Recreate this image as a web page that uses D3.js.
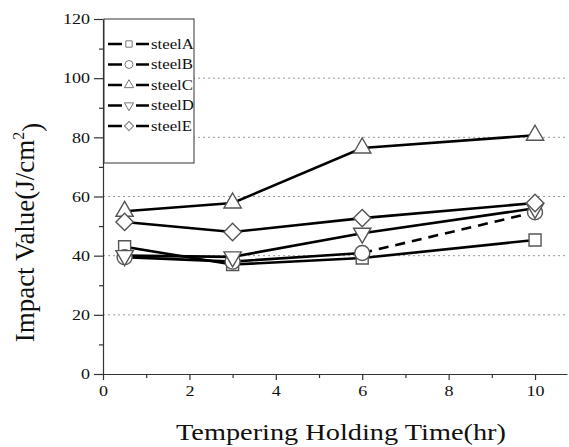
<!DOCTYPE html>
<html>
<head>
<meta charset="utf-8">
<script src="https://cdn.jsdelivr.net/npm/d3@7"></script>
<style>
  body { margin: 0; background: #fff; }
  svg text { font-family: "Liberation Serif", "Times New Roman", serif; fill: #111; }
  .axis path, .axis line { stroke: #333; stroke-width: 1.2; }
  .grid line { stroke: #999; stroke-dasharray: 2,3; }
</style>
</head>
<body>
<div id="chart"></div>
<script>
var hours = [0.5, 3, 6, 10];
var steelA = [43, 37, 39.2, 45.3];
var steelB = [39.5, 38, 40.9, 54.7];
var steelC = [55, 57.8, 76.4, 80.7];
var steelD = [40, 39.6, 47.6, 56];
var steelE = [51.4, 48, 52.7, 57.8];
var names = ["steelA", "steelB", "steelC", "steelD", "steelE"];
var yTicks = [0, 20, 40, 60, 80, 100, 120];
var xTicks = [0, 2, 4, 6, 8, 10];

// dashFrom: index where the series turns into a dashed line
var series = [
  {name: "steelA", values: steelA, symbol: "square", dashFrom: null},
  {name: "steelB", values: steelB, symbol: "circle", dashFrom: 2},
  {name: "steelC", values: steelC, symbol: "up", dashFrom: null},
  {name: "steelD", values: steelD, symbol: "down", dashFrom: null},
  {name: "steelE", values: steelE, symbol: "diamond", dashFrom: null}
];

var margin = {top: 19, right: 2, bottom: 73, left: 103},
    width = 569 - margin.left - margin.right,
    height = 447 - margin.top - margin.bottom;

var x = d3.scaleLinear().domain([0, 10.74]).range([0, width]);
var y = d3.scaleLinear().domain([0, 120]).range([height, 0]);

var svg = d3.select("#chart").append("svg")
    .attr("width", 569).attr("height", 447)
  .append("g")
    .attr("transform", "translate(" + margin.left + "," + margin.top + ")");

// the source picture is a bit wider than it is tall, so text gets stretched
function stretch(sel, k) {
  sel.each(function() {
    var w = this.getComputedTextLength();
    d3.select(this).attr("textLength", w * k).attr("lengthAdjust", "spacingAndGlyphs");
  });
}

// dotted grid
svg.append("g").attr("class", "grid")
  .selectAll("line").data([20, 40, 60, 80, 100])
  .enter().append("line")
    .attr("x1", 0).attr("x2", width)
    .attr("y1", function(d) { return y(d); })
    .attr("y2", function(d) { return y(d); });

// minor ticks
svg.append("g").attr("class", "axis")
  .attr("transform", "translate(0," + height + ")")
  .call(d3.axisBottom(x).tickValues([1, 3, 5, 7, 9]).tickSize(4).tickFormat(""))
  .call(function(g) { g.select(".domain").remove(); });
svg.append("g").attr("class", "axis")
  .call(d3.axisLeft(y).tickValues([10, 30, 50, 70, 90, 110]).tickSize(4).tickFormat(""))
  .call(function(g) { g.select(".domain").remove(); });

var xAxis = svg.append("g").attr("class", "axis")
  .attr("transform", "translate(0," + height + ")")
  .call(d3.axisBottom(x).tickValues(xTicks).tickSizeInner(6).tickSizeOuter(0).tickPadding(5));
xAxis.attr("font-family", null);
xAxis.selectAll("text").style("font-size", "15px").call(stretch, 1.2);

var yAxis = svg.append("g").attr("class", "axis")
  .call(d3.axisLeft(y).tickValues(yTicks).tickSizeInner(9).tickSizeOuter(0).tickPadding(4));
yAxis.attr("font-family", null);
yAxis.selectAll("text").style("font-size", "15px").call(stretch, 1.2);

function markerPath(sym, scale) {
  var gen = d3.symbol();
  if (sym === "square") return gen.type(d3.symbolSquare).size(144 * scale)();
  if (sym === "circle") return gen.type(d3.symbolCircle).size(177 * scale)();
  if (sym === "diamond") return gen.type(d3.symbolSquare).size(150 * scale)();
  return gen.type(d3.symbolTriangle).size(130 * scale)();
}
function markerRot(sym) {
  if (sym === "down") return " rotate(180)";
  if (sym === "diamond") return " rotate(45)";
  return "";
}

var line = d3.line()
  .x(function(d) { return x(hours[d.i]); })
  .y(function(d) { return y(d.v); });

series.forEach(function(s) {
  var pts = s.values.map(function(v, i) { return {v: v, i: i}; });
  var cut = s.dashFrom === null ? pts.length - 1 : s.dashFrom;
  svg.append("path")
    .attr("d", line(pts.slice(0, cut + 1)))
    .attr("fill", "none")
    .attr("stroke", "#000")
    .attr("stroke-width", 2.6);
  if (s.dashFrom !== null) {
    svg.append("path")
      .attr("d", line(pts.slice(cut)))
      .attr("fill", "none")
      .attr("stroke", "#000")
      .attr("stroke-width", 2.6)
      .attr("stroke-dasharray", "10,7");
  }
});

series.forEach(function(s) {
  svg.selectAll(".m-" + s.name)
    .data(s.values)
    .enter().append("path")
      .attr("class", "m-" + s.name)
      .attr("d", markerPath(s.symbol, 1))
      .attr("transform", function(d, i) {
        return "translate(" + x(hours[i]) + "," + y(d) + ")" + markerRot(s.symbol);
      })
      .attr("fill", "#fff")
      .attr("stroke", "#555")
      .attr("stroke-width", 1.4);
});

// legend
var leg = svg.append("g").attr("transform", "translate(1,0)");
leg.append("rect")
  .attr("x", 0).attr("y", 0).attr("width", 90).attr("height", 144)
  .attr("fill", "#fff").attr("stroke", "#333").attr("stroke-width", 1);
series.forEach(function(s, i) {
  var yy = 25 + i * 20.5;
  leg.append("line")
    .attr("x1", 4).attr("x2", 45).attr("y1", yy).attr("y2", yy)
    .attr("stroke", "#000").attr("stroke-width", 2.6);
  leg.append("rect")
    .attr("x", 18).attr("y", yy - 4).attr("width", 14).attr("height", 8)
    .attr("fill", "#fff");
  leg.append("path")
    .attr("d", markerPath(s.symbol, 0.28))
    .attr("transform", "translate(25," + yy + ")" + markerRot(s.symbol))
    .attr("fill", "#fff").attr("stroke", "#777").attr("stroke-width", 1);
  leg.append("text")
    .attr("x", 47).attr("y", yy).attr("dy", "0.33em")
    .style("font-size", "14px")
    .text(names[i])
    .call(stretch, 1.2);
});

// axis titles
svg.append("text")
  .attr("x", 238).attr("y", 421)
  .attr("text-anchor", "middle")
  .style("font-size", "24px")
  .text("Tempering Holding Time(hr)")
  .call(stretch, 1.18);

var yt = svg.append("text")
  .attr("transform", "translate(-69," + (height / 2 + 36) + ") rotate(-90)")
  .attr("text-anchor", "middle")
  .style("font-size", "27px");
yt.append("tspan").text("Impact Value(J/cm");
yt.append("tspan").attr("dy", "-0.6em").style("font-size", "16px").text("2");
yt.append("tspan").attr("dy", "0.6em").text(")");
</script>
</body>
</html>
